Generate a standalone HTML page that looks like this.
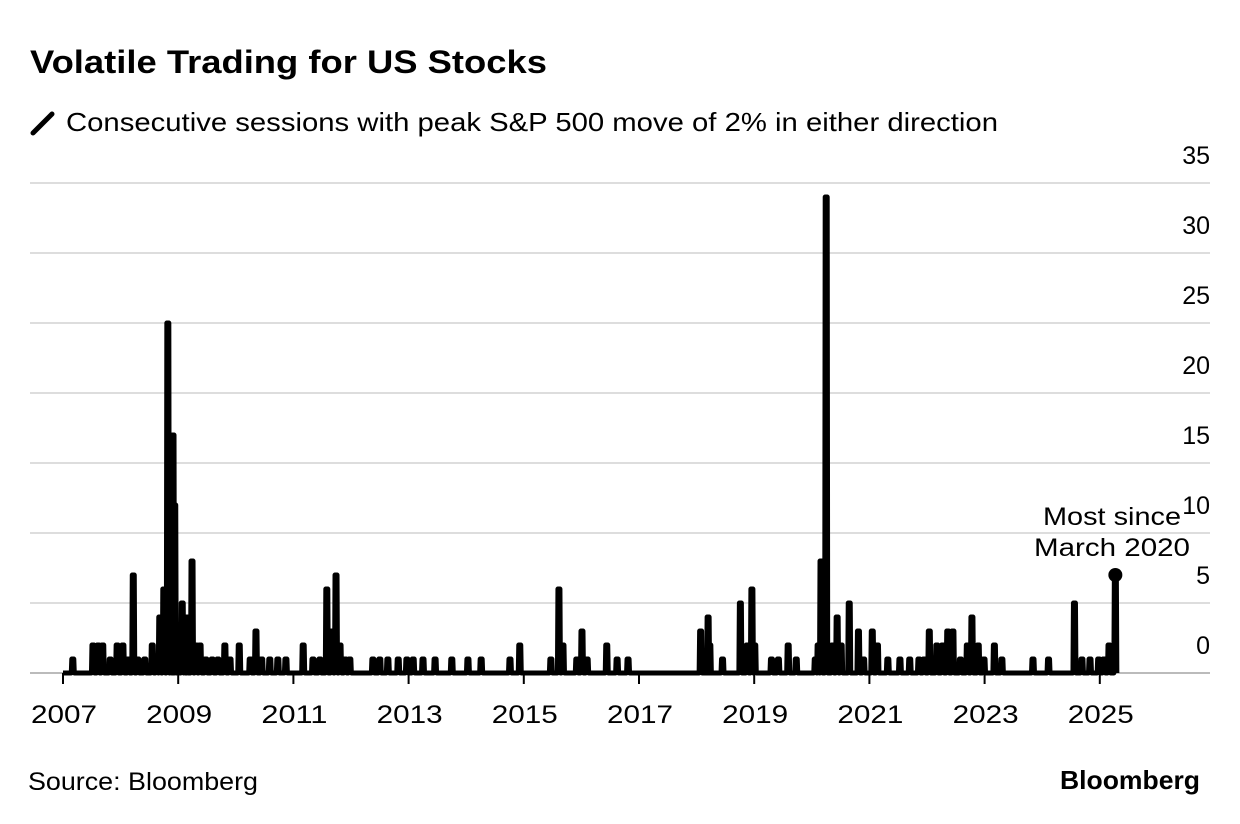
<!DOCTYPE html>
<html><head><meta charset="utf-8"><style>
body{margin:0;background:#fff;width:1240px;height:824px;overflow:hidden;font-family:"Liberation Sans",sans-serif;}
</style></head><body>
<svg width="1240" height="824" style="position:absolute;left:0;top:0">
<text x="30" y="73" font-size="32" font-weight="bold" fill="#000" textLength="517" lengthAdjust="spacingAndGlyphs">Volatile Trading for US Stocks</text>
<line x1="33" y1="133" x2="52" y2="114" stroke="#000" stroke-width="5" stroke-linecap="round"/>
<text x="66" y="131" font-size="26" fill="#000" textLength="932" lengthAdjust="spacingAndGlyphs">Consecutive sessions with peak S&amp;P 500 move of 2% in either direction</text>
<g id="grid"></g><g id="xaxis"></g><g id="series"></g>
<text x="1181" y="525" font-size="25" text-anchor="end" fill="#000" textLength="138" lengthAdjust="spacingAndGlyphs">Most since</text>
<text x="1190" y="556" font-size="25" text-anchor="end" fill="#000" textLength="156" lengthAdjust="spacingAndGlyphs">March 2020</text>
<text x="28" y="790" font-size="25" fill="#000" textLength="230" lengthAdjust="spacingAndGlyphs">Source: Bloomberg</text>
<text x="1200" y="789" font-size="26" font-weight="bold" text-anchor="end" fill="#000" textLength="140" lengthAdjust="spacingAndGlyphs">Bloomberg</text>
</svg>
<script>
const yTicks=[0,5,10,15,20,25,30,35];
const xTicks=[2007,2009,2011,2013,2015,2017,2019,2021,2023,2025];
const dates=[2007.17,2007.52,2007.61,2007.69,2007.82,2007.94,2008.04,2008.13,2008.22,2008.30,2008.42,2008.55,2008.63,2008.68,2008.75,2008.82,2008.88,2008.91,2008.94,2009.00,2009.07,2009.12,2009.15,2009.24,2009.31,2009.38,2009.48,2009.59,2009.69,2009.81,2009.90,2010.06,2010.25,2010.35,2010.45,2010.59,2010.73,2010.87,2011.17,2011.34,2011.46,2011.58,2011.67,2011.74,2011.81,2011.90,2011.98,2012.38,2012.50,2012.64,2012.82,2012.97,2013.08,2013.25,2013.46,2013.75,2014.03,2014.26,2014.76,2014.93,2015.47,2015.61,2015.68,2015.92,2016.01,2016.10,2016.44,2016.62,2016.81,2018.07,2018.20,2018.23,2018.45,2018.76,2018.88,2018.96,2019.01,2019.30,2019.42,2019.59,2019.73,2020.06,2020.11,2020.16,2020.25,2020.36,2020.44,2020.51,2020.65,2020.81,2020.90,2021.05,2021.14,2021.32,2021.53,2021.70,2021.86,2021.95,2022.04,2022.17,2022.27,2022.36,2022.45,2022.58,2022.70,2022.78,2022.89,2022.99,2023.17,2023.30,2023.84,2024.11,2024.56,2024.69,2024.83,2024.98,2025.07,2025.16,2025.27];
const values=[1,2,2,2,1,2,2,1,7,1,1,2,1,4,6,25,10,17,12,3,5,2,4,8,2,2,1,1,1,2,1,2,1,3,1,1,1,1,2,1,1,6,3,7,2,1,1,1,1,1,1,1,1,1,1,1,1,1,1,2,1,6,2,1,3,1,2,1,1,3,4,2,1,5,2,6,2,1,1,2,1,1,2,8,34,2,4,2,5,3,1,3,2,1,1,1,1,1,3,2,2,3,3,1,2,4,2,1,2,1,1,1,5,1,1,1,1,2,7];
const NS='http://www.w3.org/2000/svg';
const x=v=>63+(v-2007)*57.6;
const y=v=>673-v*14;
const grid=document.getElementById('grid');
yTicks.forEach(t=>{
 const l=document.createElementNS(NS,'line');
 l.setAttribute('x1',30);l.setAttribute('x2',1210);l.setAttribute('y1',y(t));l.setAttribute('y2',y(t));
 l.setAttribute('stroke',t===0?'#bbb':'#ddd');l.setAttribute('stroke-width',2);
 
 
 grid.appendChild(l);
 const tx=document.createElementNS(NS,'text');
 tx.setAttribute('x',1210);tx.setAttribute('y',y(t)-19);tx.setAttribute('text-anchor','end');tx.setAttribute('font-size','25');
 tx.textContent=t;
 
 
 grid.appendChild(tx);
});
const xa=document.getElementById('xaxis');
xTicks.forEach(t=>{
 const l=document.createElementNS(NS,'line');
 l.setAttribute('x1',x(t));l.setAttribute('x2',x(t));l.setAttribute('y1',673);l.setAttribute('y2',684);
 l.setAttribute('stroke','#000');l.setAttribute('stroke-width',2);
 
 
 xa.appendChild(l);
 const tx=document.createElementNS(NS,'text');
 tx.setAttribute('x',x(t)+1);tx.setAttribute('y',723);tx.setAttribute('text-anchor','middle');tx.setAttribute('font-size','25');
 tx.setAttribute('textLength','66');tx.setAttribute('lengthAdjust','spacingAndGlyphs');
 tx.textContent=t;
 
 
 xa.appendChild(tx);
});
let d='M'+x(2007)+','+y(0);
dates.forEach((dt,i)=>{
 const px=x(dt);
 d+=' L'+(px-1.5)+','+y(0)+' L'+(px-1)+','+y(values[i])+' L'+(px+1)+','+y(values[i])+' L'+(px+1.5)+','+y(0);
});
d+=' L'+(x(dates[dates.length-1])+1.5)+','+y(0);
const s=document.getElementById('series');
const p=document.createElementNS(NS,'path');
p.setAttribute('d',d);p.setAttribute('fill','none');p.setAttribute('stroke','#000');p.setAttribute('stroke-width',5);p.setAttribute('stroke-linejoin','round');


s.appendChild(p);
const c=document.createElementNS(NS,'circle');
c.setAttribute('cx',x(dates[dates.length-1]));c.setAttribute('cy',y(values[values.length-1]));c.setAttribute('r',7);


s.appendChild(c);
</script>
</body></html>
